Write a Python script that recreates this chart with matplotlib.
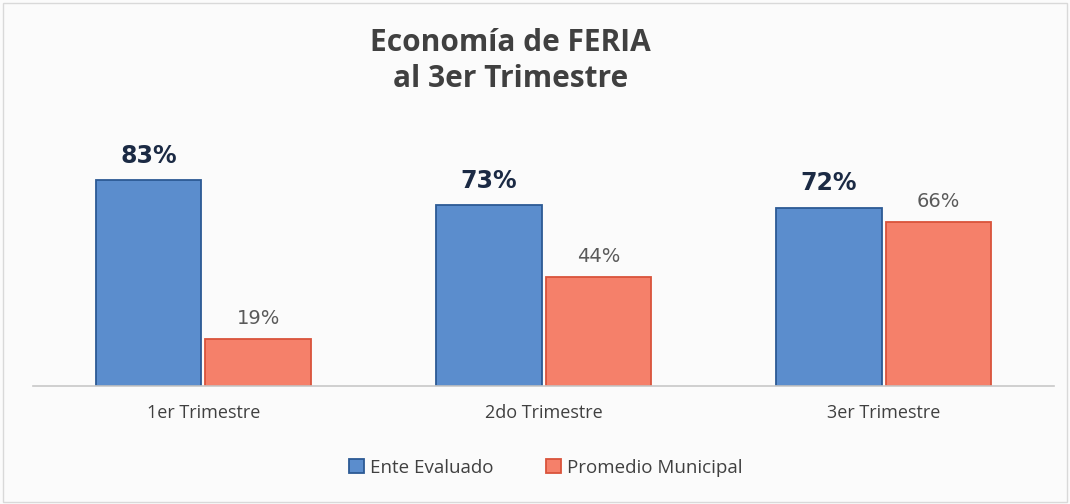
import numpy as np
import matplotlib
matplotlib.use("Agg")
import matplotlib.pyplot as plt
from matplotlib.patches import Rectangle

categories = ["1er Trimestre", "2do Trimestre", "3er Trimestre"]
ente = [83, 73, 72]
promedio = [19, 44, 66]
series_names = ["Ente Evaluado", "Promedio Municipal"]

fig = plt.figure(figsize=(10.7, 5.04), dpi=100)
fig.patch.set_facecolor("#fbfbfb")
ax = fig.add_axes([0.031, 0.234, 0.954, 0.492])
ax.set_facecolor("none")

x = np.arange(len(categories))
w = 0.31
gap = 0.006
b1 = ax.bar(x - w / 2 - gap, ente, w, color="#5b8dcd", edgecolor="#2c5a94",
            linewidth=1.3, label=series_names[0])
b2 = ax.bar(x + w / 2 + gap, promedio, w, color="#f5806a", edgecolor="#d9533b",
            linewidth=1.3, label=series_names[1])

for rect, v in zip(b1, ente):
    ax.text(rect.get_x() + rect.get_width() / 2, v + 5.0, f"{v}%",
            ha="center", va="bottom", fontsize=17, fontweight="bold",
            color="#1b2a44", family="DejaVu Sans")
for rect, v in zip(b2, promedio):
    ax.text(rect.get_x() + rect.get_width() / 2, v + 4.5, f"{v}%",
            ha="center", va="bottom", fontsize=14, color="#5a5a5a",
            family="DejaVu Sans")

ax.set_xlim(-0.5, 2.5)
ax.set_ylim(0, 100)
ax.set_yticks([])
ax.set_xticks(x)
ax.set_xticklabels(categories, fontsize=13, color="#404040", family="Open Sans")
ax.tick_params(axis="x", length=0, pad=13)
for s in ["top", "right", "left"]:
    ax.spines[s].set_visible(False)
ax.spines["bottom"].set_color("#c8c8c8")
ax.spines["bottom"].set_linewidth(1.2)

fig.text(0.477, 0.915, "Economía de FERIA", ha="center", va="center",
         fontsize=21.5, fontweight="bold", color="#404040", family="Open Sans")
fig.text(0.477, 0.843, "al 3er Trimestre", ha="center", va="center",
         fontsize=21.5, fontweight="bold", color="#404040", family="Open Sans")

leg = fig.legend(handles=[b1, b2], labels=series_names, loc="center",
                 bbox_to_anchor=(0.51, 0.072), ncol=2, frameon=False,
                 handlelength=0.8, handleheight=0.8,
                 handletextpad=0.3, columnspacing=2.8,
                 prop={"family": "Open Sans", "size": 13.5})
for t in leg.get_texts():
    t.set_color("#404040")

fig.add_artist(Rectangle((0.003, 0.004), 0.994, 0.99, transform=fig.transFigure,
                         fill=False, edgecolor="#d9d9d9", linewidth=1))

fig.savefig("out.png", dpi=100, facecolor=fig.get_facecolor())
